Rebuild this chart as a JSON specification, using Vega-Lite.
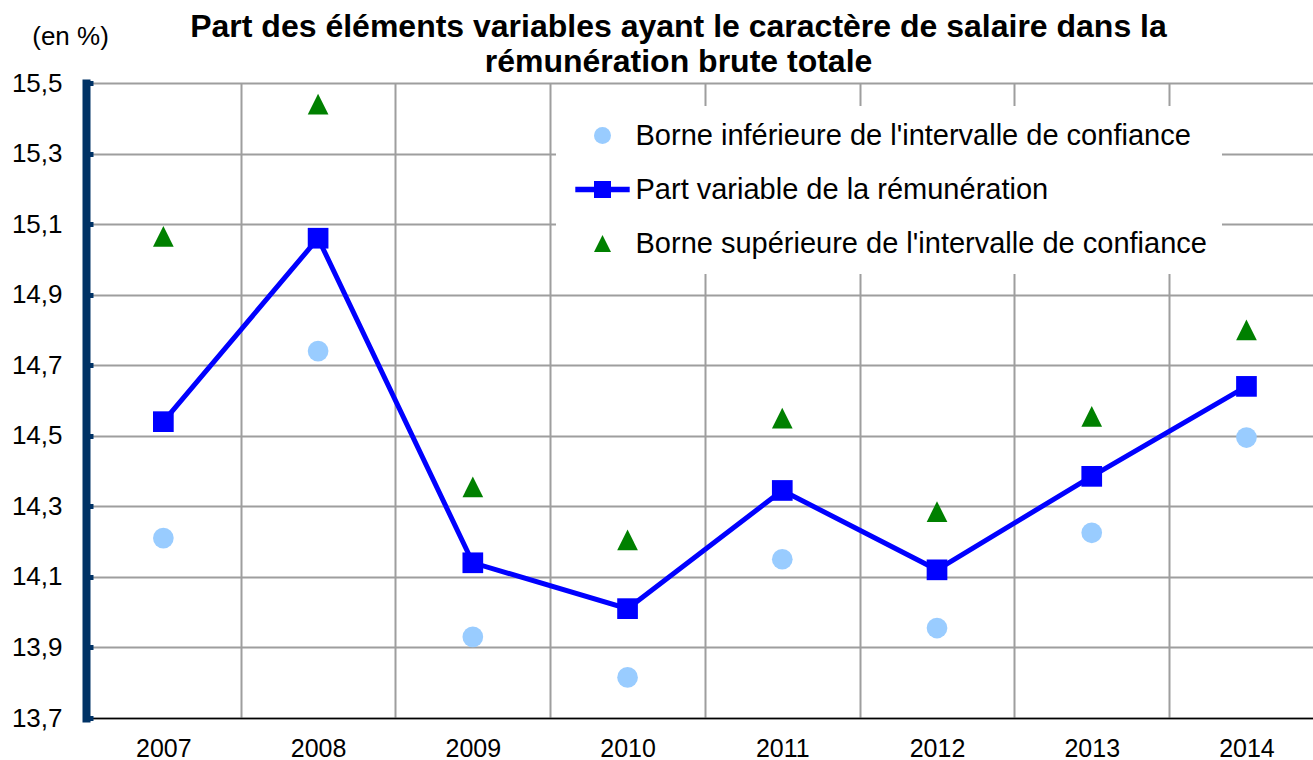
{
  "$schema": "https://vega.github.io/schema/vega-lite/v6.json",
  "width": 1227,
  "height": 635,
  "autosize": {"type": "none"},
  "padding": {"left": 86, "top": 83, "right": 0, "bottom": 42},
  "background": "white",
  "config": {"view": {"stroke": null}, "font": "Liberation Sans"},
  "title": {
    "text": ["Part des éléments variables ayant le caractère de salaire dans la", "rémunération brute totale"],
    "font": "Liberation Sans",
    "fontSize": 32,
    "fontWeight": "bold",
    "color": "black",
    "lineHeight": 35,
    "anchor": "middle",
    "frame": "group",
    "baseline": "top",
    "offset": 10,
    "dx": -21,
    "dy": 66
  },
  "data": {
    "values": [
      {"annee": 2007, "serie": "Borne inférieure de l'intervalle de confiance", "valeur": 14.21},
      {"annee": 2008, "serie": "Borne inférieure de l'intervalle de confiance", "valeur": 14.74},
      {"annee": 2009, "serie": "Borne inférieure de l'intervalle de confiance", "valeur": 13.93},
      {"annee": 2010, "serie": "Borne inférieure de l'intervalle de confiance", "valeur": 13.815},
      {"annee": 2011, "serie": "Borne inférieure de l'intervalle de confiance", "valeur": 14.15},
      {"annee": 2012, "serie": "Borne inférieure de l'intervalle de confiance", "valeur": 13.955},
      {"annee": 2013, "serie": "Borne inférieure de l'intervalle de confiance", "valeur": 14.225},
      {"annee": 2014, "serie": "Borne inférieure de l'intervalle de confiance", "valeur": 14.495},
      {"annee": 2007, "serie": "Part variable de la rémunération", "valeur": 14.54},
      {"annee": 2008, "serie": "Part variable de la rémunération", "valeur": 15.06},
      {"annee": 2009, "serie": "Part variable de la rémunération", "valeur": 14.14},
      {"annee": 2010, "serie": "Part variable de la rémunération", "valeur": 14.01},
      {"annee": 2011, "serie": "Part variable de la rémunération", "valeur": 14.345},
      {"annee": 2012, "serie": "Part variable de la rémunération", "valeur": 14.12},
      {"annee": 2013, "serie": "Part variable de la rémunération", "valeur": 14.385},
      {"annee": 2014, "serie": "Part variable de la rémunération", "valeur": 14.64},
      {"annee": 2007, "serie": "Borne supérieure de l'intervalle de confiance", "valeur": 15.065},
      {"annee": 2008, "serie": "Borne supérieure de l'intervalle de confiance", "valeur": 15.44},
      {"annee": 2009, "serie": "Borne supérieure de l'intervalle de confiance", "valeur": 14.355},
      {"annee": 2010, "serie": "Borne supérieure de l'intervalle de confiance", "valeur": 14.205},
      {"annee": 2011, "serie": "Borne supérieure de l'intervalle de confiance", "valeur": 14.55},
      {"annee": 2012, "serie": "Borne supérieure de l'intervalle de confiance", "valeur": 14.285},
      {"annee": 2013, "serie": "Borne supérieure de l'intervalle de confiance", "valeur": 14.555},
      {"annee": 2014, "serie": "Borne supérieure de l'intervalle de confiance", "valeur": 14.8}
    ]
  },
  "encoding": {
    "x": {
      "field": "annee",
      "type": "quantitative",
      "scale": {"domain": [2006.5, 2014.43], "nice": false, "zero": false},
      "axis": {
        "values": [2007, 2007.5, 2008, 2008.5, 2009, 2009.5, 2010, 2010.5, 2011, 2011.5, 2012, 2012.5, 2013, 2013.5, 2014],
        "title": null,
        "labelExpr": "datum.value % 1 == 0 ? datum.value : ''",
        "labelFont": "Liberation Sans",
        "labelFontSize": 25,
        "labelColor": "black",
        "labelPadding": 18,
        "labelFlush": false,
        "labelOverlap": false,
        "ticks": false,
        "grid": true,
        "gridColor": "#9e9e9e",
        "gridWidth": 2,
        "gridOpacity": {"condition": {"test": "datum.value % 1 == 0", "value": 0}, "value": 1},
        "domainColor": "#000000",
        "domainWidth": 1.5
      }
    },
    "y": {
      "field": "valeur",
      "type": "quantitative",
      "scale": {"domain": [13.7, 15.5], "nice": false, "zero": false},
      "axis": {
        "values": [13.7, 13.9, 14.1, 14.3, 14.5, 14.7, 14.9, 15.1, 15.3, 15.5],
        "title": "(en %)",
        "titleAngle": 0,
        "titleX": -16,
        "titleY": -47,
        "titleAlign": "center",
        "titleBaseline": "middle",
        "titleFont": "Liberation Sans",
        "titleFontSize": 26,
        "titleFontWeight": "normal",
        "titleColor": "black",
        "labelExpr": "replace(format(datum.value, '.1f'), '.', ',')",
        "labelFont": "Liberation Sans",
        "labelFontSize": 26,
        "labelColor": "black",
        "labelPadding": 31,
        "labelFlush": false,
        "labelOverlap": false,
        "tickSize": -7,
        "tickColor": "#003366",
        "tickWidth": 5,
        "domainColor": "#003366",
        "domainWidth": 8,
        "domainCap": "square",
        "grid": true,
        "gridColor": "#9e9e9e",
        "gridWidth": 2
      }
    }
  },
  "layer": [
    {
      "transform": [{"filter": "datum.serie != 'Part variable de la rémunération'"}],
      "mark": {"type": "point", "filled": true, "size": 428, "opacity": 1},
      "encoding": {
        "color": {
          "field": "serie",
          "type": "nominal",
          "scale": {
            "domain": ["Borne inférieure de l'intervalle de confiance", "Part variable de la rémunération", "Borne supérieure de l'intervalle de confiance"],
            "range": ["#99CCFF", "#0000FF", "#008000"]
          },
          "legend": {
            "orient": "none",
            "legendX": 470,
            "legendY": 23,
            "title": null,
            "labelFont": "Liberation Sans",
            "labelFontSize": 29,
            "labelColor": "black",
            "labelOffset": 18.5,
            "labelExpr": "datum.label + '    '",
            "symbolOffset": 17,
            "symbolSize": 289,
            "symbolStrokeWidth": 0,
            "rowPadding": 24,
            "padding": 15,
            "fillColor": "white",
            "strokeColor": null,
            "labelLimit": 0
          }
        },
        "shape": {
          "field": "serie",
          "type": "nominal",
          "scale": {
            "domain": ["Borne inférieure de l'intervalle de confiance", "Part variable de la rémunération", "Borne supérieure de l'intervalle de confiance"],
            "range": ["circle", "M-3.2,-0.32H3.2V0.32H-3.2Z M-1,-1H1V1H-1Z", "M0,-1L1,1L-1,1Z"]
          },
          "legend": {
            "orient": "none",
            "legendX": 470,
            "legendY": 23,
            "title": null,
            "labelFont": "Liberation Sans",
            "labelFontSize": 29,
            "labelColor": "black",
            "labelOffset": 18.5,
            "labelExpr": "datum.label + '    '",
            "symbolOffset": 17,
            "symbolSize": 289,
            "symbolStrokeWidth": 0,
            "rowPadding": 24,
            "padding": 15,
            "fillColor": "white",
            "strokeColor": null,
            "labelLimit": 0
          }
        }
      }
    },
    {
      "transform": [{"filter": "datum.serie == 'Part variable de la rémunération'"}],
      "mark": {"type": "line", "color": "#0000FF", "strokeWidth": 5},
      "encoding": {}
    },
    {
      "transform": [{"filter": "datum.serie == 'Part variable de la rémunération'"}],
      "mark": {"type": "point", "shape": "square", "filled": true, "size": 428, "color": "#0000FF", "opacity": 1},
      "encoding": {}
    }
  ]
}
